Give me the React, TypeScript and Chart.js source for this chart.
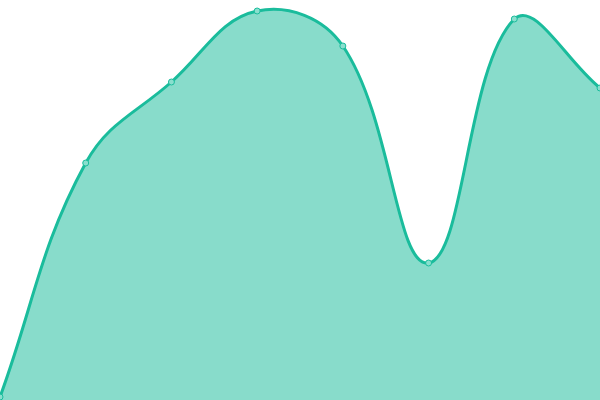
import React, { useEffect, useRef } from "react";
import { Chart, registerables } from "chart.js";

Chart.register(...registerables);

const labels = ["A", "B", "C", "D", "E", "F", "G", "H"];
const values = [3, 237, 318, 389, 354, 137, 381, 312];

export default function App() {
  const ref = useRef<HTMLCanvasElement>(null);
  useEffect(() => {
    document.body.style.margin = "0";
    const chart = new Chart(ref.current!, {
      type: "line",
      data: {
        labels,
        datasets: [
          {
            data: values,
            borderColor: "#1abc9c",
            backgroundColor: "rgba(26,188,156,0.52)",
            pointBackgroundColor: "#8adfce",
            pointBorderColor: "#1abc9c",
            pointRadius: 3,
            pointBorderWidth: 1,
            borderWidth: 3,
            tension: 0.4,
            fill: true,
          },
        ],
      },
      options: {
        animation: false,
        responsive: true,
        maintainAspectRatio: false,
        layout: { padding: 0, autoPadding: false },
        plugins: { legend: { display: false }, tooltip: { enabled: false } },
        scales: {
          x: { display: false },
          y: { display: false, min: 0, max: 400 },
        },
      },
    });
    return () => chart.destroy();
  }, []);
  return (
    <div style={{ width: 600, height: 400, position: "relative" }}>
      <canvas ref={ref} />
    </div>
  );
}
